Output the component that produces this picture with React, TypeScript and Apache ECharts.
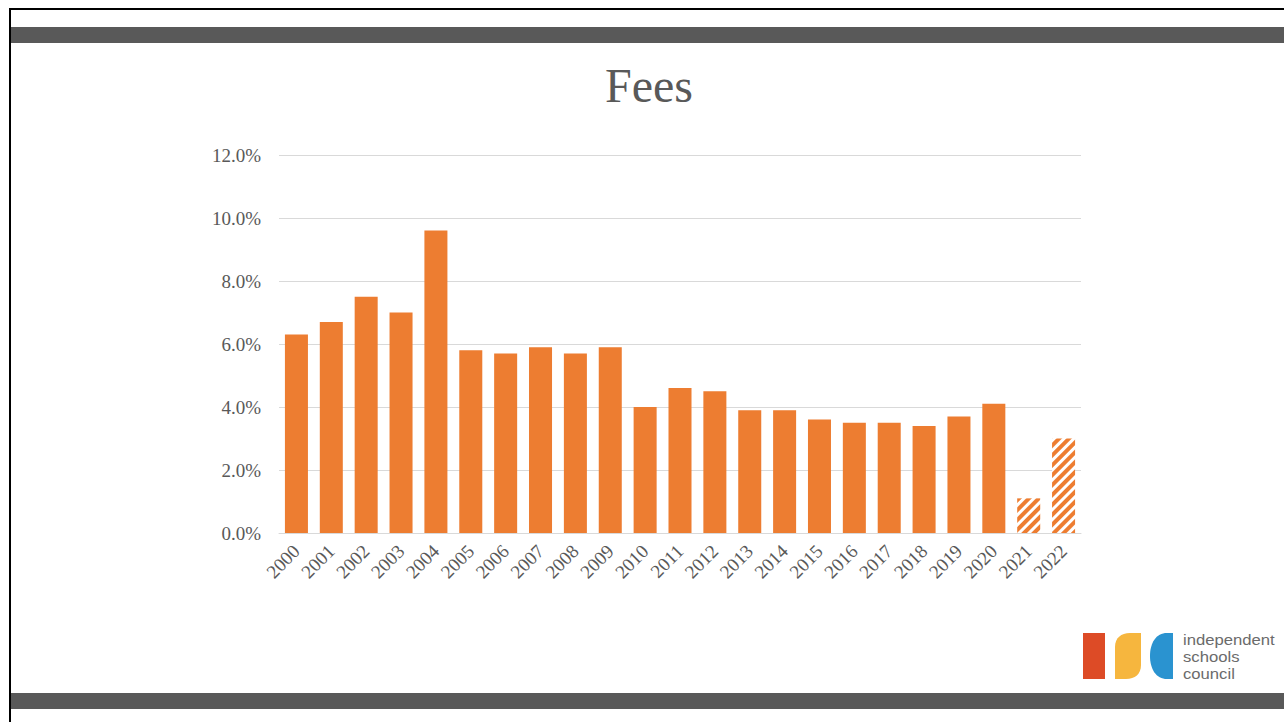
import React, { useEffect, useRef } from "react";
import * as echarts from "echarts";

const years = ["2000","2001","2002","2003","2004","2005","2006","2007","2008","2009","2010","2011","2012","2013","2014","2015","2016","2017","2018","2019","2020","2021","2022"];
const feeRise = [6.3,6.7,7.5,7.0,9.6,5.8,5.7,5.9,5.7,5.9,4.0,4.6,4.5,3.9,3.9,3.6,3.5,3.5,3.4,3.7,4.1,1.1,3.0];
const hatchedYears = ["2021","2022"];
const yTicks = { min: 0, max: 12, interval: 2 };
const titleText = "Fees";
const logoLines = ["independent", "schools", "council"];

const ORANGE = "#ED7D31";
const GREY = "#595959";
const SERIF = "'Liberation Serif', 'DejaVu Serif', serif";

echarts.graphic.registerShape(
  "iscLeaf",
  echarts.graphic.extendPath("M26 0 L26 32 C26 41 20 46 11 46 L0 46 L0 14 C0 5 6 0 15 0 Z", {}) as any
);
echarts.graphic.registerShape(
  "iscC",
  echarts.graphic.extendPath("M23 0 L23 46 L17 46 C6 46 0 36 0 23 C0 10 6 0 17 0 Z", {}) as any
);

export default function App() {
  const ref = useRef<HTMLDivElement>(null);
  useEffect(() => {
    if (!ref.current) return;
    const chart = echarts.init(ref.current, null, { renderer: "svg" });
    const data = years.map((y, i) => {
      if (hatchedYears.includes(y)) {
        return {
          value: feeRise[i],
          itemStyle: {
            color: "#ffffff",
            decal: {
              symbol: "rect",
              symbolSize: 1,
              color: ORANGE,
              dashArrayX: [1, 0],
              dashArrayY: [4, 2.5],
              rotation: -Math.PI / 4,
            },
          },
        };
      }
      return { value: feeRise[i] };
    });
    chart.setOption({
      animation: false,
      backgroundColor: "#ffffff",
      title: {
        text: titleText,
        left: 644,
        top: 56,
        textAlign: "center",
        textStyle: { fontFamily: SERIF, fontSize: 48, fontWeight: "normal", color: GREY },
      },
      grid: { left: 279, right: 203, top: 155, bottom: 189 },
      xAxis: {
        type: "category",
        data: years,
        axisLine: { lineStyle: { color: "#d9d9d9" } },
        axisTick: { show: false },
        axisLabel: {
          rotate: 45,
          interval: 0,
          margin: 15,
          fontFamily: SERIF,
          fontSize: 19,
          color: GREY,
        },
      },
      yAxis: {
        type: "value",
        min: yTicks.min,
        max: yTicks.max,
        interval: yTicks.interval,
        axisLine: { show: false },
        axisTick: { show: false },
        splitLine: { lineStyle: { color: "#d9d9d9", width: 1 } },
        axisLabel: {
          margin: 18,
          fontFamily: SERIF,
          fontSize: 19,
          color: GREY,
          formatter: (v: number) => v.toFixed(1) + "%",
        },
      },
      series: [
        {
          type: "bar",
          data,
          barCategoryGap: "34%",
          itemStyle: { color: ORANGE },
        },
      ],
      graphic: [
        { type: "rect", shape: { x: 9, y: 8, width: 1275, height: 2 }, style: { fill: "#000" } },
        { type: "rect", shape: { x: 9, y: 8, width: 2, height: 714 }, style: { fill: "#000" } },
        { type: "rect", shape: { x: 11, y: 27, width: 1273, height: 16 }, style: { fill: "#595959" } },
        { type: "rect", shape: { x: 11, y: 693, width: 1273, height: 16 }, style: { fill: "#595959" } },
        { type: "rect", shape: { x: 1083, y: 633, width: 22, height: 46 }, style: { fill: "#DD4B26" } },
        { type: "iscLeaf", x: 1115, y: 633, style: { fill: "#F6B63E" } },
        { type: "iscC", x: 1150, y: 633, style: { fill: "#2A93D0" } },
        ...logoLines.map((t, i) => ({
          type: "text",
          x: 1183,
          y: 640 + i * 17,
          scaleX: 1.15,
          style: {
            text: t,
            fontFamily: "'Liberation Sans', Arial, sans-serif",
            fontSize: 14.5,
            lineHeight: 14.5,
            verticalAlign: "middle",
            fill: "#6b6b6b",
          },
        })),
      ],
    });
    return () => chart.dispose();
  }, []);
  return (
    <div
      ref={ref}
      style={{ position: "fixed", left: 0, top: 0, width: 1284, height: 722 }}
    />
  );
}
